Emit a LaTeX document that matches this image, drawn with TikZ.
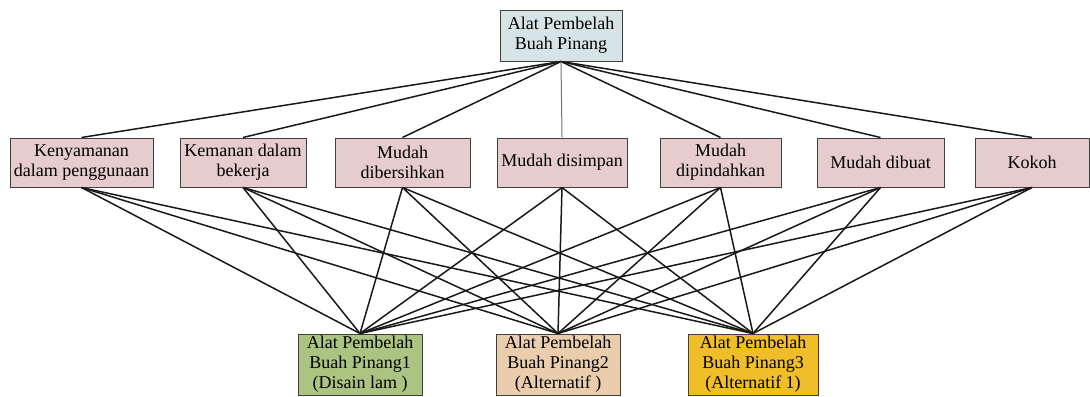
\documentclass[tikz,border=0pt]{standalone}
\usepackage{fontspec}
\setmainfont{Liberation Serif}
\usepackage{xcolor}
\definecolor{tujuanfill}{RGB}{214,228,229}
\definecolor{kriteriafill}{RGB}{230,204,204}
\definecolor{alt1fill}{RGB}{172,196,130}
\definecolor{alt2fill}{RGB}{234,205,172}
\definecolor{alt3fill}{RGB}{240,190,40}

\begin{document}
\begin{tikzpicture}[x=0.5pt,y=-0.5pt,
    kotak/.style={draw=black!75,line width=0.5pt,align=center,inner sep=0pt,
      font=\fontsize{9}{10}\selectfont},
    kriteria/.style={kotak,fill=kriteriafill,minimum height=24.5pt},
    alternatif/.style={kotak,minimum height=30.5pt,minimum width=62pt},
    garis/.style={line width=0.75pt,black!90}]
        \useasboundingbox (0,0) rectangle (1090,396);

        % --- tujuan ---
        \node[kotak,fill=tujuanfill,minimum width=61pt,minimum height=25.5pt]
          (tujuan) at (561,35.5) {Alat Pembelah\\Buah Pinang};

        % --- kriteria ---
        \node[kriteria,minimum width=71.5pt] (k1) at (81.5,162.5) {Kenyamanan\\dalam penggunaan};
        \node[kriteria,minimum width=63pt] (k2) at (243,162.5) {Kemanan dalam\\bekerja};
        \node[kriteria,minimum width=67.5pt] (k3) at (402.5,162.5) {Mudah\\dibersihkan};
        \node[kriteria,minimum width=65pt] (k4) at (562,162.5) {Mudah disimpan};
        \node[kriteria,minimum width=60.5pt] (k5) at (720.5,162.5) {Mudah\\dipindahkan};
        \node[kriteria,minimum width=63.5pt] (k6) at (880.5,162.5) {Mudah dibuat};
        \node[kriteria,minimum width=57pt] (k7) at (1032,162.5) {Kokoh};

        % --- alternatif ---
        \node[alternatif,fill=alt1fill] (a1) at (360,364.5)
          {Alat Pembelah\\Buah Pinang1\\(Disain lam )};
        \node[alternatif,fill=alt2fill] (a2) at (558,364.5)
          {Alat Pembelah\\Buah Pinang2\\(Alternatif )};
        \node[alternatif,fill=alt3fill,minimum width=65pt] (a3) at (753,364.5)
          {Alat Pembelah\\Buah Pinang3\\(Alternatif 1)};

        % --- garis tujuan ke kriteria ---
        \foreach \k in {1,2,3,5,6,7}
          \draw[garis] (tujuan.south) -- (k\k.north);
        \draw[line width=0.5pt,black!55] (tujuan.south) -- (k4.north);

        % --- garis kriteria ke alternatif ---
        \foreach \k in {1,...,7}
          \foreach \a in {1,2,3}
            \draw[garis] (k\k.south) -- (a\a.north);
      \end{tikzpicture}
\end{document}
